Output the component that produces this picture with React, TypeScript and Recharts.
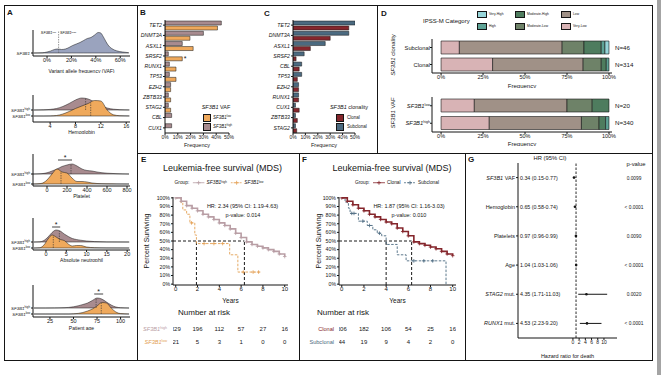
import React from 'react'
import {
  AreaChart, Area, BarChart, Bar, ComposedChart, Line, ScatterChart, Scatter,
  XAxis, YAxis, ReferenceLine, ErrorBar, LabelList,
} from 'recharts'

const FONT = '"Liberation Sans", Arial, Helvetica, sans-serif'
const INK = '#151515'
const HIGH = '#a88b8f'
const LOW = '#efa95c'
const HIGH_KM = '#b99ea5'
const LOW_KM = '#e3a054'
const CLONAL = '#85262c'
const SUBCLONAL = '#4b6a80'
const VAF_FILL = '#9aa3be'

// A: density heights, px above each ridge baseline
const vafX = [-11, -4, 0, 3, 6, 9, 12, 15, 18, 21, 24, 27, 30, 33, 36, 39, 42, 44, 46, 48, 50, 53, 57, 62, 67]
const vafD = [0, 0.2, 1, 2, 3.5, 4, 3.5, 4, 5.5, 7.5, 9, 10.5, 12.5, 14.5, 15.5, 18, 20.5, 20, 16.5, 12, 8, 4.5, 2.2, 1, 0.3]

const hbX = [1.4, 3, 4, 5, 6, 7, 8, 9, 10, 11, 12, 13, 14, 15, 16.5]
const hbHigh = [0, 0.2, 0.6, 1.5, 3.5, 6.5, 10, 12, 11, 8, 4.5, 2, 0.8, 0.3, 0.1]
const hbLow = [0, 0, 0.1, 0.5, 2, 4.5, 7.5, 10, 12.5, 15.5, 15, 6, 1.2, 0.3, 0.1]

const pltX = [-140, -60, 0, 50, 100, 150, 200, 250, 300, 350, 400, 450, 500, 600, 700, 820]
const pltHigh = [0, 0.3, 1.2, 3, 5, 7.5, 9, 10, 8, 5, 3.5, 3, 2, 0.8, 0.3, 0]
const pltLow = [0, 0.5, 4, 10, 15, 12, 11, 6, 2.5, 2.5, 2, 1, 0.5, 0.2, 0.1, 0]

const ancX = [-3, -1.5, -0.5, 0.5, 1.5, 2.5, 3.5, 4.5, 5.5, 6.5, 7.5, 8.5, 10, 12, 15, 20.5]
const ancHigh = [0, 0.2, 1.5, 5, 9.5, 12, 11, 8, 5.5, 3.5, 2.5, 1.8, 1, 0.4, 0.1, 0]
const ancLow = [0, 0.3, 3, 9, 13, 11, 8.5, 7.5, 4, 2, 2.5, 2.5, 1, 0.3, 0.1, 0]

const ageX = [8, 20, 30, 40, 45, 50, 55, 60, 65, 70, 75, 80, 85, 90, 95, 100, 109]
const ageHigh = [0, 0, 0.1, 0.3, 0.6, 1.2, 2.2, 3.5, 5, 7.5, 10, 9, 6, 3, 1, 0.3, 0]
const ageLow = [0, 0, 0, 0, 0, 0.2, 0.6, 1.5, 3, 5, 8, 11.5, 11, 6, 2, 0.4, 0]

// B
const genesB = ['TET2', 'DNMT3A', 'ASXL1', 'SRSF2', 'RUNX1', 'TP53', 'EZH2', 'ZBTB33', 'STAG2', 'CBL', 'CUX1']
const freqHighB = [44, 30, 13.5, 2.6, 3.4, 3.4, 4.4, 2.6, 2.6, 5.2, 5.2]
const freqLowB = [41, 19.5, 22, 13.5, 8.6, 8.6, 4.4, 4.4, 4.4, 0, 0]
const sigB = ['SRSF2']

// C
const genesC = ['TET2', 'DNMT3A', 'ASXL1', 'SRSF2', 'CBL', 'TP53', 'EZH2', 'RUNX1', 'CUX1', 'ZBTB33', 'STAG2']
const freqSubC = [50, 45, 26, 9, 7, 7, 4.5, 4.5, 2, 2, 2]
const freqClonC = [45, 30, 14, 2.5, 5, 3.5, 4.5, 4.5, 5, 3.5, 3]

// D
const ipssCats = ['Very-Low', 'Low', 'Moderate-Low', 'Moderate-High', 'High', 'Very-High']
const ipssColors = ['#d8b3b5', '#a09187', '#6e8268', '#4e7c5e', '#5ea396', '#97d5d9']
const ipssSubclonal = [10.9, 61.2, 13, 10.3, 2.2, 2.4]
const ipssClonal = [30.7, 53.9, 10.8, 3, 1.6, 0]
const ipssVafLow = [19.8, 55.2, 15, 10, 0, 0]
const ipssVafHigh = [28.7, 54.9, 10.5, 3.9, 2, 0]
const nClon = [46, 314]
const nVaf = [20, 340]

// E / F
const kmT = [0, 0.5, 1, 1.5, 2, 2.5, 3, 3.5, 4, 4.5, 5, 5.5, 6, 6.5, 7, 7.5, 8, 8.5, 9, 9.5, 10]
const survHighE = [100, 96, 91, 88, 85, 81, 78, 75, 71, 68, 64, 59, 54, 49, 46, 44, 42, 40, 38, 35, 32]
const lowTE = [0, 0.45, 0.65, 1.0, 1.3, 1.75, 1.9, 4.95, 5.7, 7.7]
const lowSE = [100, 95, 86, 81, 71, 57, 47, 34, 14, 14]
const lowCensTE = [1.45, 2.6, 3.5, 4.3, 6.2, 7.1, 7.6]
const lowCensSE = [71, 47, 47, 47, 14, 14, 14]
const survClonF = [100, 96, 92, 88, 85, 81, 78, 75, 72, 70, 65, 61, 56, 49, 47, 45, 43, 41, 38, 35, 33]
const subTF = [0, 0.3, 0.6, 0.75, 1.5, 2.3, 2.8, 3.2, 3.6, 4.0, 5.0, 5.8, 9.4]
const subSF = [100, 95, 88, 82, 73, 68, 63, 59, 56, 46, 34, 27, 0]
const subCensTF = [0.9, 1.1, 1.9, 2.5, 3.4, 6.5, 7.4, 8.2]
const subCensSF = [82, 82, 73, 68, 59, 27, 27, 27]

const riskT = [0, 2, 4, 6, 8, 10]
const riskHighE = [329, 196, 112, 57, 27, 16]
const riskLowE = [21, 5, 3, 1, 0, 0]
const riskClonF = [306, 182, 106, 54, 25, 16]
const riskSubF = [44, 19, 9, 4, 2, 0]

// G
const gRows = ['SF3B1 VAF', 'Hemoglobin', 'Platelets', 'Age', 'STAG2 mut.', 'RUNX1 mut.']
const gHR = [0.34, 0.65, 0.97, 1.04, 4.35, 4.53]
const gLo = [0.15, 0.58, 0.96, 1.03, 1.71, 2.23]
const gHi = [0.77, 0.74, 0.99, 1.06, 11.03, 9.2]
const gP = ['0.0099', '< 0.0001', '0.0090', '< 0.0001', '0.0020', '< 0.0001']
const GENE_WORDS = ['SF3B1', 'STAG2', 'RUNX1']

const pct = (v: number) => `${v}%`
const zip = (t: number[], s: number[]) => t.map((x, i) => ({ t: x, s: s[i] }))

function Txt({ x, y, size = 6, anchor = 'start', color = INK, weight = 400, italic = false, children }: any) {
  const tx = anchor === 'middle' ? '-50%' : anchor === 'end' ? '-100%' : '0'
  return (
    <div style={{
      position: 'absolute', left: x, top: y, transform: `translate(${tx},-50%)`, fontSize: size,
      lineHeight: 1, color, fontWeight: weight, fontStyle: italic ? 'italic' : 'normal', whiteSpace: 'nowrap',
    }}>{children}</div>
  )
}

const Sf = ({ sup }: { sup?: string }) => (
  <span><i>SF3B1</i>{sup && <sup style={{ fontSize: '0.62em', verticalAlign: '0.5em', lineHeight: 0 }}>{sup}</sup>}</span>
)

const Box = ({ x, y, w = 8, h = 8, color }: any) => (
  <div style={{ position: 'absolute', left: x, top: y, width: w, height: h, background: color, border: `0.6px solid ${INK}`, boxSizing: 'border-box' }} />
)

const Rule = ({ x, y, w, h, color = INK }: any) => (
  <div style={{ position: 'absolute', left: x, top: y, width: w, height: h, background: color }} />
)

function RidgeTick({ x, y, payload, ridges }: any) {
  const r = ridges.find((q: any) => q.base === payload.value)
  return (
    <text x={x} y={y} dy={1.5} textAnchor="end" fontSize={4.4} fill={INK}>
      <tspan fontStyle="italic">SF3B1</tspan>
      {r && r.label ? <tspan fontSize={2.9} dy={-1.6}>{r.label}</tspan> : null}
    </text>
  )
}

function RidgePlot({ top, axis, xh, xs, dom, ticks, fmt, title, ridges, medians = [], sig, guide }: any) {
  const H = axis - top
  const data = xs.map((x: number, i: number) => {
    const row: any = { x }
    ridges.forEach((r: any, k: number) => { row['r' + k] = [r.base, r.base + r.vals[i]] })
    return row
  })
  return (
    <div style={{ position: 'absolute', left: 4, top }}>
      <AreaChart width={133} height={H + xh} data={data} margin={{ top: 0, right: 7, bottom: 0, left: 0 }}>
        <XAxis type="number" dataKey="x" domain={dom} ticks={ticks} tickFormatter={fmt} allowDataOverflow
          tickSize={2} tickMargin={0} height={xh} stroke={INK} tick={{ fontSize: 5.5, fill: INK }} interval={0}
          label={{ value: title, position: 'insideBottom', offset: 0, fontSize: 5, fill: INK }} />
        <YAxis type="number" domain={[0, H]} allowDataOverflow ticks={ridges.map((r: any) => r.base)} width={29}
          tickSize={2} tickMargin={1} stroke={INK} interval={0}
          tick={(p: any) => <RidgeTick {...p} ridges={ridges} />} />
        {ridges.map((r: any, k: number) => (
          <Area key={k} dataKey={'r' + k} type="monotone" fill={r.fill} fillOpacity={1} stroke={INK}
            strokeWidth={0.5} isAnimationActive={false} />
        ))}
        {medians.map((m: any, k: number) => (
          <ReferenceLine key={'m' + k} segment={[{ x: m.x, y: m.base }, { x: m.x, y: m.base + m.h }]}
            stroke="#333" strokeWidth={0.6} strokeDasharray="1.5 1" />
        ))}
        {guide !== undefined && (
          <ReferenceLine segment={[{ x: guide, y: ridges[0].base }, { x: guide, y: H - 1 }]}
            stroke="#555" strokeWidth={0.6} strokeDasharray="1.5 1" />
        )}
        {sig && (
          <ReferenceLine segment={[{ x: sig[0], y: sig[2] }, { x: sig[1], y: sig[2] }]} stroke={INK} strokeWidth={0.8}
            label={{ value: '*', position: 'top', offset: 0, fontSize: 7, fill: INK }} />
        )}
      </AreaChart>
    </div>
  )
}

function GeneBars({ left, width, yw, right, genes, a, b, ca, cb, sig }: any) {
  const data = genes.map((g: string, i: number) => ({ gene: g, a: a[i], b: b[i], sig: sig.includes(g) ? '*' : '' }))
  return (
    <div style={{ position: 'absolute', left, top: 5 }}>
      <BarChart layout="vertical" width={width} height={148} data={data}
        margin={{ top: 15, right, bottom: 6, left: 0 }} barSize={4} barGap={1}>
        <XAxis type="number" domain={[0, 50]} ticks={[0, 10, 20, 30, 40, 50]} tickFormatter={pct} allowDataOverflow
          tickSize={2} tickMargin={0} height={14} stroke={INK} tick={{ fontSize: 5, fill: INK }} interval={0}
          label={{ value: 'Frequency', position: 'insideBottom', offset: 0, fontSize: 5.5, fill: INK }} />
        <YAxis type="category" dataKey="gene" width={yw} tickSize={2} tickMargin={1} stroke={INK}
          tick={{ fontSize: 5.2, fill: INK, fontStyle: 'italic' }} interval={0} />
        <Bar dataKey="a" fill={ca} stroke={INK} strokeWidth={0.5} isAnimationActive={false} />
        <Bar dataKey="b" fill={cb} stroke={INK} strokeWidth={0.5} isAnimationActive={false}>
          <LabelList dataKey="sig" position="right" offset={1.5} fontSize={7} fill={INK} />
        </Bar>
      </BarChart>
    </div>
  )
}

function IpssTick({ x, y, payload, rows }: any) {
  const r = rows.find((q: any) => q.name === payload.value)
  return (
    <g>
      <text x={x} y={y} dy={2} textAnchor="end" fontSize={5.8} fill={INK}>
        {r.sup ? <><tspan fontStyle="italic">SF3B1</tspan><tspan fontSize={3.6} dy={-2}>{r.sup}</tspan></> : r.name}
      </text>
      <text x={x + 185} y={y} dy={2.2} fontSize={6.2} fill={INK}>N={r.n}</text>
    </g>
  )
}

function IpssBars({ top, mTop, plotH, xh, rows }: any) {
  const data = rows.map((r: any) => {
    const row: any = { name: r.name }
    r.vals.forEach((v: number, k: number) => { row['c' + k] = v })
    return row
  })
  return (
    <div style={{ position: 'absolute', left: 377, top }}>
      <BarChart layout="vertical" width={276} height={mTop + plotH + xh} data={data}
        margin={{ top: mTop, right: 41, bottom: 0, left: 25 }} barSize={13}>
        <XAxis type="number" domain={[-5.4, 101.8]} ticks={[0, 25, 50, 75, 100]} tickFormatter={pct} allowDataOverflow
          tickSize={2} tickMargin={0} height={xh} stroke={INK} tick={{ fontSize: 5.5, fill: INK }} interval={0}
          label={{ value: 'Frequency', position: 'insideBottom', offset: 0, fontSize: 6, fill: INK }} />
        <YAxis type="category" dataKey="name" width={30} tickSize={2} tickMargin={0} stroke={INK} interval={0}
          tick={(p: any) => <IpssTick {...p} rows={rows} />} />
        {ipssCats.map((c, k) => (
          <Bar key={c} dataKey={'c' + k} stackId="s" fill={ipssColors[k]} stroke={INK} strokeWidth={0.6}
            isAnimationActive={false} />
        ))}
      </BarChart>
    </div>
  )
}

const plus = (color: string, s = 1.8) => (p: any) => (
  <path key={`p${p.index}`} d={`M${p.cx - s},${p.cy}h${2 * s}M${p.cx},${p.cy - s}v${2 * s}`}
    stroke={color} strokeWidth={0.8} fill="none" />
)

function KMPlot({ left, width, mLeft, yw, mRight, solid, solidColor, dashed, dashedColor, cens, medians }: any) {
  return (
    <div style={{ position: 'absolute', left, top: 185 }}>
      <ComposedChart width={width} height={118} margin={{ top: 12, right: mRight, bottom: 0, left: mLeft }}>
        <XAxis type="number" dataKey="t" domain={[-0.25, 10.3]} ticks={[0, 2, 4, 6, 8, 10]} allowDataOverflow
          tickSize={2} tickMargin={0} height={18} stroke={INK} tick={{ fontSize: 6, fill: INK }} interval={0}
          label={{ value: 'Years', position: 'insideBottom', offset: 0, fontSize: 6.5, fill: INK }} />
        <YAxis type="number" domain={[-1, 101]} allowDataOverflow ticks={[0, 10, 20, 30, 40, 50, 60, 70, 80, 90, 100]}
          tickFormatter={pct} width={yw} tickSize={2} tickMargin={1} stroke={INK}
          tick={{ fontSize: 5.2, fill: INK }} interval={0} />
        <ReferenceLine segment={[{ x: -0.25, y: 50 }, { x: medians[1], y: 50 }]} stroke="#000" strokeWidth={0.9} strokeDasharray="3 2" />
        {medians.map((m: number, k: number) => (
          <ReferenceLine key={k} segment={[{ x: m, y: -1 }, { x: m, y: 50 }]} stroke="#000" strokeWidth={0.9} strokeDasharray="3 2" />
        ))}
        <Line data={dashed} dataKey="s" type="stepAfter" stroke={dashedColor} strokeWidth={0.9}
          strokeDasharray="2.5 1.5" dot={false} isAnimationActive={false} />
        <Line data={cens} dataKey="s" stroke="none" dot={plus(dashedColor)} isAnimationActive={false} />
        <Line data={solid} dataKey="s" type="stepAfter" stroke={solidColor} strokeWidth={1.6}
          dot={plus(solidColor)} isAnimationActive={false} />
      </ComposedChart>
    </div>
  )
}

function RiskTable({ left, width, mLeft, yw, mRight, rows, gap }: any) {
  const data = rows.flatMap((r: any, k: number) => riskT.map((t, i) => ({ t, r: k, n: r.values[i] })))
  return (
    <div style={{ position: 'absolute', left, top: 322 }}>
      <ScatterChart width={width} height={26} margin={{ top: 0, right: mRight, bottom: 0, left: mLeft }}>
        <XAxis type="number" dataKey="t" domain={[-0.25, 10.3]} allowDataOverflow hide />
        <YAxis type="number" dataKey="r" domain={[-0.5, 1.5]} reversed ticks={[0, 1]} width={yw}
          axisLine={false} tickLine={false} tickSize={0} tickMargin={gap} interval={0}
          tick={(p: any) => {
            const r = rows[p.payload.value]
            return (
              <text x={p.x} y={p.y} dy={2} textAnchor="end" fontSize={5.6} fill={r.color}>
                {r.sup ? <><tspan fontStyle="italic">SF3B1</tspan><tspan fontSize={3.6} dy={-2}>{r.sup}</tspan></> : r.name}
              </text>
            )
          }} />
        <Scatter data={data} isAnimationActive={false}
          shape={(p: any) => <text x={p.cx} y={p.cy} dy={2.2} textAnchor="middle" fontSize={6} fill={INK}>{p.payload.n}</text>} />
      </ScatterChart>
    </div>
  )
}

function ForestTick({ x, y, payload }: any) {
  const i = payload.value
  const words = gRows[i].split(' ')
  const ital = GENE_WORDS.includes(words[0])
  const hrText = `${gHR[i].toFixed(2)} (${gLo[i].toFixed(2)}-${gHi[i].toFixed(2)})`
  return (
    <g>
      <text x={x} y={y} dy={2} textAnchor="end" fontSize={5.5} fill={INK}>
        {ital ? <><tspan fontStyle="italic">{words[0]}</tspan><tspan>{'\u00a0' + words.slice(1).join(' ')}</tspan></> : gRows[i]}
      </text>
      <text x={x + 5} y={y} dy={2} fontSize={5.3} fill={INK}>{hrText}</text>
      <text x={x + 119} y={y} dy={2} fontSize={4.8} fill={INK} textAnchor="middle">{gP[i]}</text>
    </g>
  )
}

function Forest() {
  const data = gRows.map((r, i) => ({ row: i, hr: gHR[i], err: [gHR[i] - gLo[i], gHi[i] - gHR[i]] }))
  return (
    <div style={{ position: 'absolute', left: 465, top: 153 }}>
      <ScatterChart width={188} height={208} margin={{ top: 10, right: 36, bottom: 3, left: 0 }}>
        <XAxis type="number" dataKey="hr" domain={[-17.7, 14.2]} ticks={[0, 2, 4, 6, 8, 10]} allowDataOverflow
          tickSize={2} tickMargin={0} height={20} stroke={INK} tick={{ fontSize: 5, fill: INK }} interval={0}
          label={{ value: 'Hazard ratio for death', position: 'insideBottom', offset: 0, fontSize: 5.5, fill: INK }} />
        <YAxis type="number" dataKey="row" domain={[-0.5, 5.5]} reversed ticks={[0, 1, 2, 3, 4, 5]} width={53}
          tickSize={2} tickMargin={1} stroke={INK} interval={0} allowDataOverflow tick={(p: any) => <ForestTick {...p} />} />
        <ReferenceLine x={1} stroke={INK} strokeWidth={0.9} strokeDasharray="2.5 1.5" />
        <Scatter data={data} fill={INK} isAnimationActive={false}
          shape={(p: any) => <circle cx={p.cx} cy={p.cy} r={1.3} fill={INK} />}>
          <ErrorBar dataKey="err" direction="x" width={0} stroke={INK} strokeWidth={1} />
        </Scatter>
      </ScatterChart>
    </div>
  )
}

const KeyMark = ({ color, dashed }: any) => (
  <svg width={12} height={5} style={{ verticalAlign: 'middle', margin: '0 2px' }}>
    <line x1={0} y1={2.5} x2={12} y2={2.5} stroke={color} strokeWidth={0.8} strokeDasharray={dashed ? '2 1' : undefined} />
    <path d="M6,0.5v4M4,2.5h4" stroke={color} strokeWidth={0.8} />
  </svg>
)

export default function App() {
  const hiLo = (hi: number[], lo: number[], hb: number, lb: number) => [
    { vals: hi, base: hb, fill: HIGH, label: 'high' },
    { vals: lo, base: lb, fill: LOW, label: 'low' },
  ]
  return (
    <div style={{ position: 'absolute', left: 0, top: 0, width: 661, height: 375, background: '#fff', fontFamily: FONT, color: INK, overflow: 'hidden' }}>
      {/* frames */}
      <div style={{ position: 'absolute', left: 4, top: 5, width: 649, height: 356, border: `1px solid ${INK}`, boxSizing: 'border-box' }} />
      <Rule x={136.5} y={5} w={1} h={356} />
      <Rule x={137} y={152.5} w={516} h={1} />
      <Rule x={376.5} y={5} w={1} h={148} />
      <Rule x={298.5} y={153} w={1} h={208} />
      <Rule x={464.5} y={153} w={1} h={208} />
      <Rule x={657} y={0} w={4} h={375} color="#a4a4a4" />

      {/* panel letters */}
      <Txt x={7} y={13} size={8} weight={700}>A</Txt>
      <Txt x={140} y={13} size={8} weight={700}>B</Txt>
      <Txt x={264} y={14} size={8} weight={700}>C</Txt>
      <Txt x={381} y={14} size={8} weight={700}>D</Txt>
      <Txt x={141} y={160} size={8} weight={700}>E</Txt>
      <Txt x={302} y={160} size={8} weight={700}>F</Txt>
      <Txt x={468} y={160} size={8} weight={700}>G</Txt>

      {/* A */}
      <RidgePlot top={30} axis={56} xh={17} xs={vafX} dom={[-11.5, 68]} ticks={[0, 20, 40, 60]} fmt={pct}
        title="Variant allele frequency (VAF)" guide={9.5}
        ridges={[{ vals: vafD, base: 3, fill: VAF_FILL, label: '' }]} />
      <Txt x={56} y={34} size={3.8} anchor="end"><Sf sup="low" /></Txt>
      <Txt x={60} y={34} size={3.8}><Sf sup="high" /></Txt>

      <RidgePlot top={95} axis={122} xh={12} xs={hbX} dom={[1.3, 16.6]} ticks={[4, 8, 12, 16]} title="Hemoglobin"
        ridges={hiLo(hbHigh, hbLow, 12, 6)}
        medians={[{ x: 9.6, base: 12, h: 11.5 }, { x: 10.4, base: 6, h: 13.5 }]} />
      <RidgePlot top={154} axis={186} xh={12} xs={pltX} dom={[-140, 830]} ticks={[0, 200, 400, 600, 800]} title="Platelet"
        ridges={hiLo(pltHigh, pltLow, 12, 2)} sig={[110, 250, 26]}
        medians={[{ x: 240, base: 12, h: 9.5 }, { x: 140, base: 2, h: 12.5 }]} />
      <RidgePlot top={218} axis={250} xh={12} xs={ancX} dom={[-3.2, 20.7]} ticks={[0, 5, 10, 15, 20]} title="Absolute neutrophil"
        ridges={hiLo(ancHigh, ancLow, 8, 2)} sig={[1.5, 3.5, 23]}
        medians={[{ x: 3.3, base: 8, h: 11 }, { x: 1.8, base: 2, h: 12.5 }]} />
      <RidgePlot top={285} axis={317} xh={13} xs={ageX} dom={[7, 110]} ticks={[25, 50, 75, 100]} title="Patient age"
        ridges={hiLo(ageHigh, ageLow, 9, 3)} sig={[72, 81.5, 23]}
        medians={[{ x: 74, base: 9, h: 9.5 }, { x: 79.5, base: 3, h: 11 }]} />

      {/* B */}
      <GeneBars left={137} width={125} yw={28} right={33} genes={genesB} a={freqHighB} b={freqLowB} ca={HIGH} cb={LOW} sig={sigB} />
      <Txt x={216} y={108} size={5.5} anchor="middle"><i>SF3B1</i> VAF</Txt>
      <Box x={203} y={114} color={LOW} />
      <Box x={203} y={123} color={HIGH} />
      <Txt x={213} y={118} size={4.5}><Sf sup="low" /></Txt>
      <Txt x={213} y={127} size={4.5}><Sf sup="high" /></Txt>

      {/* C */}
      <GeneBars left={262} width={115} yw={31} right={22} genes={genesC} a={freqSubC} b={freqClonC} ca={SUBCLONAL} cb={CLONAL} sig={[]} />
      <Txt x={349} y={108} size={5.5} anchor="middle"><i>SF3B1</i> clonality</Txt>
      <Box x={336} y={114} color={CLONAL} />
      <Box x={336} y={123} color={SUBCLONAL} />
      <Txt x={347} y={118} size={4.5}>Clonal</Txt>
      <Txt x={347} y={127} size={4.5}>Subclonal</Txt>

      {/* D */}
      <Txt x={423} y={21} size={6}>IPSS-M Category</Txt>
      {[[5, 477, 10.7], [4, 477, 22.7], [3, 515, 10.7], [2, 515, 22.7], [1, 561, 10.7], [0, 561, 22.7]].map(([k, x, y]) => (
        <React.Fragment key={k}>
          <Box x={x} y={y} w={9.5} h={7.5} color={ipssColors[k]} />
          <Txt x={x + 12} y={y + 3.8} size={3.3}>{ipssCats[k]}</Txt>
        </React.Fragment>
      ))}
      <IpssBars top={30} mTop={9} plotH={34} xh={15}
        rows={[{ name: 'Subclonal', vals: ipssSubclonal, n: nClon[0] }, { name: 'Clonal', vals: ipssClonal, n: nClon[1] }]} />
      <IpssBars top={90} mTop={7} plotH={35} xh={14}
        rows={[{ name: 'low', sup: 'low', vals: ipssVafLow, n: nVaf[0] }, { name: 'high', sup: 'high', vals: ipssVafHigh, n: nVaf[1] }]} />
      <div style={{ position: 'absolute', left: 393, top: 55, transform: 'translate(-50%,-50%) rotate(-90deg)', fontSize: 6, whiteSpace: 'nowrap' }}>
        <i>SF3B1</i> clonality
      </div>
      <div style={{ position: 'absolute', left: 393, top: 113, transform: 'translate(-50%,-50%) rotate(-90deg)', fontSize: 6, whiteSpace: 'nowrap' }}>
        <i>SF3B1</i> VAF
      </div>

      {/* E */}
      <Txt x={222.5} y={168} size={9} anchor="middle">Leukemia-free survival (MDS)</Txt>
      <Txt x={219} y={183} size={4.8} anchor="middle">
        Group: <KeyMark color={HIGH_KM} /><Sf sup="high" /> <KeyMark color={LOW_KM} dashed /><Sf sup="low" />
      </Txt>
      <KMPlot left={137} width={162} mLeft={8} yw={28} mRight={11}
        solid={zip(kmT, survHighE)} solidColor={HIGH_KM}
        dashed={zip(lowTE, lowSE)} dashedColor={LOW_KM} cens={zip(lowCensTE, lowCensSE)} medians={[1.9, 6.3]} />
      <div style={{ position: 'absolute', left: 146, top: 241, transform: 'translate(-50%,-50%) rotate(-90deg)', fontSize: 7, whiteSpace: 'nowrap' }}>
        Percent Surviving
      </div>
      <Txt x={242.5} y={207} size={5.5} anchor="middle">HR: 2.34 (95% CI: 1.19-4.63)</Txt>
      <Txt x={243} y={216} size={5.5} anchor="middle">p-value: 0.014</Txt>
      <Txt x={178} y={313} size={8}>Number at risk</Txt>
      <RiskTable left={137} width={162} mLeft={8} yw={28} mRight={11} gap={6}
        rows={[{ sup: 'high', color: HIGH_KM, values: riskHighE }, { sup: 'low', color: LOW_KM, values: riskLowE }]} />

      {/* F */}
      <Txt x={392} y={168} size={9} anchor="middle">Leukemia-free survival (MDS)</Txt>
      <Txt x={397} y={183} size={4.8} anchor="middle">
        Group: <KeyMark color={CLONAL} />Clonal <KeyMark color={SUBCLONAL} dashed />Subclonal
      </Txt>
      <KMPlot left={299} width={166} mLeft={10} yw={30} mRight={9}
        solid={zip(kmT, survClonF)} solidColor={CLONAL}
        dashed={zip(subTF, subSF)} dashedColor={SUBCLONAL} cens={zip(subCensTF, subCensSF)} medians={[4.0, 6.3]} />
      <div style={{ position: 'absolute', left: 318, top: 241, transform: 'translate(-50%,-50%) rotate(-90deg)', fontSize: 7, whiteSpace: 'nowrap' }}>
        Percent Surviving
      </div>
      <Txt x={409} y={207} size={5.5} anchor="middle">HR: 1.87 (95% CI: 1.16-3.03)</Txt>
      <Txt x={409} y={216} size={5.5} anchor="middle">p-value: 0.010</Txt>
      <Txt x={317} y={313} size={8}>Number at risk</Txt>
      <RiskTable left={299} width={166} mLeft={10} yw={30} mRight={9} gap={5}
        rows={[{ name: 'Clonal', color: CLONAL, values: riskClonF }, { name: 'Subclonal', color: SUBCLONAL, values: riskSubF }]} />

      {/* G */}
      <Txt x={550} y={159} size={5.8} anchor="middle">HR (95% CI)</Txt>
      <Txt x={636} y={165} size={5.8} anchor="middle">p-value</Txt>
      <Forest />
    </div>
  )
}
